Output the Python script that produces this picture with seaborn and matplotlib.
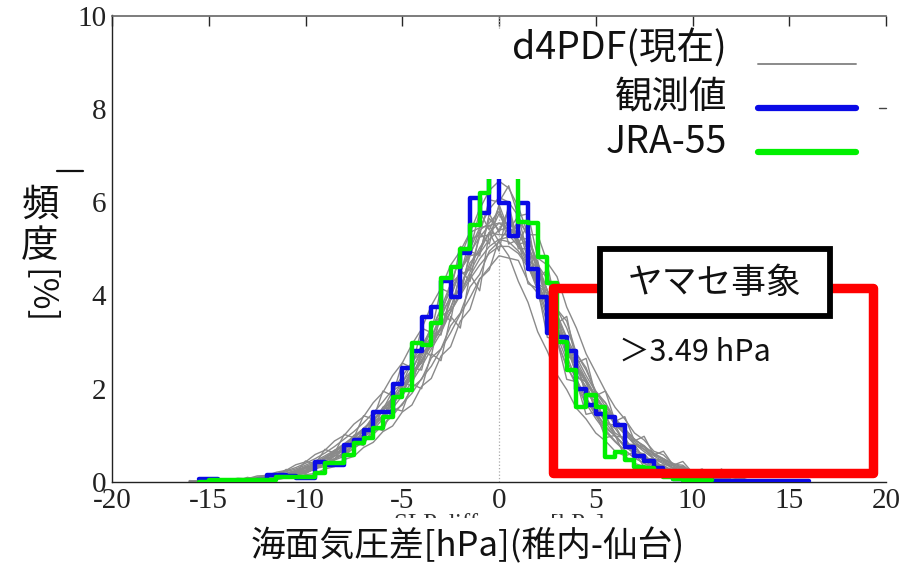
import numpy as np
import pandas as pd
import matplotlib
matplotlib.use("Agg")
import matplotlib.pyplot as plt
import seaborn as sns
from matplotlib.patches import Rectangle
from matplotlib.lines import Line2D

# ---------------- data ----------------
bin_width = 0.5
blue_start = -15.5
blue_obs = [0.06, 0.06, 0.03, 0.02, 0.02, 0.03, 0.05, 0.15, 0.15, 0.12, 0.09, 0.09,
            0.43, 0.36, 0.36, 0.79, 0.90, 1.11, 1.50, 1.50, 2.10, 2.44, 2.80, 3.53, 3.75,
            4.30, 3.96, 4.90, 6.08, 5.76, 6.90,
            5.97, 5.27, 5.97, 4.56, 3.96, 3.20, 3.10, 2.80, 2.00, 1.65, 1.45, 1.40, 1.22,
            0.75, 0.56, 0.45, 0.31, 0.12,
            0.06, 0.05, 0.04, 0.04, 0.03, 0.03, 0.03, 0.02, 0.02, 0.02, 0.02, 0.02, 0.02, 0.02]
green_start = -15.5
green_jra = [0.00, 0.04, 0.04, 0.04, 0.04, 0.04, 0.05, 0.05, 0.10, 0.10, 0.10, 0.10,
             0.20, 0.40, 0.40, 0.58, 0.83, 0.95, 1.15, 1.39, 1.82, 1.97, 2.97, 2.93, 3.40,
             4.37, 4.60, 5.00, 5.50, 6.19, 6.90,
             6.90, 6.90, 5.57, 5.55, 4.82, 4.26, 3.00, 2.40, 1.60, 1.86, 1.60, 0.53, 0.65,
             0.47, 0.32, 0.30, 0.20, 0.10, 0.06, 0.05, 0.05, 0.04]

# d4PDF ensemble members (values every 0.5 hPa)
gray_start_a = -13.0
gray_members_a = {
    "A": [0.05,0.04,0.10,0.08,0.18,0.22,0.33,0.35,0.52,0.62,0.80,0.92,1.15,1.30,1.60,1.80,2.15,2.40,2.85,3.10,3.60,3.95,4.55,4.85,5.40,5.55,5.80,5.45,5.20,4.70,4.20,3.60,3.15,2.60,2.20,1.80,1.50,1.20,0.98,0.78,0.62,0.48,0.37,0.28,0.20,0.15,0.10,0.07,0.04,0.03,0.01],
    "B": [0.01,0.03,0.04,0.07,0.10,0.15,0.22,0.30,0.38,0.50,0.62,0.78,0.95,1.12,1.35,1.58,1.85,2.15,2.48,2.85,3.20,3.65,4.05,4.50,4.90,5.20,5.40,5.45,5.30,5.00,4.60,4.10,3.55,3.05,2.60,2.20,1.85,1.52,1.25,1.02,0.82,0.65,0.50,0.39,0.30,0.22,0.15,0.10,0.07,0.04,0.03],
    "C": [0.02,0.07,0.05,0.13,0.11,0.25,0.22,0.42,0.40,0.66,0.64,0.97,0.95,1.36,1.32,1.85,1.80,2.45,2.40,3.20,3.15,4.05,3.95,4.95,4.85,5.75,5.35,5.85,5.10,5.15,4.25,4.10,3.15,3.05,2.25,2.15,1.50,1.45,0.98,0.96,0.60,0.60,0.35,0.36,0.19,0.21,0.09,0.11,0.03,0.05,0.01],
    "D": [0.06,0.08,0.11,0.14,0.19,0.25,0.33,0.42,0.53,0.66,0.80,0.96,1.13,1.32,1.53,1.77,2.03,2.30,2.60,2.92,3.28,3.65,4.05,4.42,4.78,5.05,5.20,5.15,4.95,4.65,4.25,3.80,3.32,2.88,2.48,2.12,1.80,1.52,1.28,1.06,0.87,0.70,0.56,0.44,0.34,0.26,0.19,0.13,0.09,0.05,0.03],
    "E": [0.01,0.02,0.04,0.06,0.09,0.14,0.20,0.28,0.38,0.49,0.62,0.78,0.96,1.17,1.40,1.67,1.96,2.30,2.68,3.08,3.52,4.00,4.50,5.00,5.45,5.85,6.10,6.00,5.70,5.25,4.70,4.10,3.50,2.95,2.45,2.00,1.60,1.28,1.00,0.78,0.60,0.45,0.33,0.24,0.17,0.11,0.07,0.05,0.03,0.02,0.01],
    "F": [0.04,0.03,0.09,0.07,0.17,0.15,0.32,0.28,0.52,0.48,0.80,0.74,1.16,1.10,1.60,1.55,2.15,2.05,2.85,2.70,3.65,3.45,4.55,4.30,5.35,5.10,5.95,5.40,5.70,4.85,4.75,3.75,3.65,2.70,2.60,1.85,1.80,1.25,1.22,0.82,0.80,0.50,0.50,0.29,0.30,0.14,0.16,0.06,0.07,0.02,0.03],
    "G": [0.02,0.04,0.06,0.09,0.12,0.17,0.24,0.33,0.43,0.55,0.68,0.84,1.00,1.20,1.42,1.66,1.94,2.24,2.58,2.95,3.33,3.75,4.20,4.62,5.02,5.35,5.55,5.55,5.40,5.05,4.60,4.10,3.60,3.10,2.68,2.28,1.93,1.62,1.35,1.12,0.92,0.75,0.60,0.47,0.37,0.28,0.21,0.15,0.10,0.06,0.04],
    "H": [0.08,0.10,0.14,0.18,0.24,0.31,0.40,0.50,0.62,0.76,0.92,1.08,1.27,1.48,1.72,1.98,2.26,2.57,2.92,3.28,3.68,4.10,4.52,4.92,5.25,5.50,5.55,5.40,5.10,4.65,4.10,3.55,3.00,2.50,2.06,1.68,1.36,1.08,0.86,0.67,0.52,0.40,0.30,0.22,0.16,0.11,0.08,0.05,0.03,0.02,0.01],
    "I": [0.03,0.06,0.06,0.12,0.13,0.21,0.30,0.34,0.50,0.55,0.78,0.85,1.10,1.20,1.55,1.65,2.10,2.20,2.75,2.90,3.55,3.70,4.45,4.55,5.25,5.30,5.75,5.35,5.50,4.75,4.60,3.75,3.50,2.75,2.50,1.90,1.72,1.30,1.15,0.85,0.74,0.52,0.45,0.30,0.26,0.16,0.13,0.08,0.06,0.03,0.02],
    "J": [0.02,0.03,0.08,0.09,0.12,0.24,0.25,0.38,0.44,0.62,0.70,0.90,1.02,1.28,1.40,1.76,1.92,2.35,2.55,3.05,3.30,3.90,4.15,4.70,4.95,5.35,5.30,5.30,5.05,4.80,4.25,3.85,3.20,2.90,2.30,2.05,1.58,1.40,1.05,0.92,0.66,0.60,0.38,0.36,0.22,0.20,0.10,0.12,0.04,0.06,0.02],
}
gray_start_b = -16.0
gray_members_b = {
    "K": [.02,.00,.04,.01,.06,.02,.10,.05,.16,.11,.27,.20,.45,.38,.70,.62,1.02,.95,1.42,1.35,1.95,1.85,2.55,2.45,3.30,3.20,4.15,4.05,5.05,4.95,5.80,5.40,5.90,5.10,5.20,4.25,4.15,3.10,3.05,2.20,2.15,1.45,1.50,.95,1.00,.55,.65,.32,.42,.15,.25,.06,.14,.02,.07,.00,.03,.00,.01],
    "L": [.00,.02,.01,.00,.03,.02,.04,.03,.07,.09,.10,.16,.18,.29,.33,.47,.55,.74,.84,1.08,1.18,1.50,1.65,2.02,2.20,2.66,2.85,3.35,3.62,4.18,4.45,4.95,5.15,5.45,5.25,5.20,4.65,4.35,3.70,3.30,2.75,2.40,1.95,1.70,1.35,1.15,.90,.78,.58,.50,.36,.30,.22,.18,.12,.10,.05,.06,.02],
    "M": [.00,.00,.01,.01,.01,.02,.02,.03,.05,.07,.10,.14,.20,.28,.38,.50,.64,.80,.98,1.20,1.44,1.72,2.04,2.40,2.80,3.25,3.72,4.25,4.80,5.35,5.85,6.25,6.45,6.30,5.90,5.30,4.65,3.95,3.30,2.70,2.20,1.78,1.42,1.12,.88,.68,.52,.40,.30,.22,.16,.11,.07,.05,.03,.02,.01,.00,.00],
    "N": [.02,.03,.03,.04,.05,.06,.08,.10,.13,.17,.22,.28,.36,.45,.56,.68,.82,.98,1.15,1.34,1.55,1.78,2.04,2.32,2.62,2.95,3.30,3.65,4.00,4.35,4.65,4.90,5.05,5.05,4.90,4.60,4.20,3.75,3.30,2.88,2.50,2.15,1.84,1.56,1.32,1.10,.92,.76,.62,.50,.40,.31,.24,.18,.13,.09,.06,.04,.02],
    "O": [.00,.03,.00,.04,.02,.06,.03,.09,.06,.14,.11,.23,.20,.38,.34,.58,.52,.85,.78,1.18,1.10,1.58,1.52,2.10,2.00,2.75,2.60,3.55,3.30,4.45,4.10,5.35,4.95,5.95,5.10,5.55,4.35,4.55,3.40,3.55,2.55,2.65,1.85,1.95,1.30,1.40,.88,.98,.58,.66,.36,.44,.20,.28,.10,.16,.04,.08,.01],
    "P": [.03,.02,.04,.05,.04,.08,.07,.13,.14,.21,.25,.37,.43,.59,.68,.88,1.00,1.24,1.40,1.70,1.92,2.28,2.55,2.95,3.28,3.78,4.15,4.65,4.95,5.35,5.45,5.50,5.15,4.85,4.30,3.85,3.22,2.80,2.30,1.98,1.58,1.35,1.05,.88,.66,.56,.40,.33,.22,.18,.11,.09,.04,.04,.01,.02,.00,.01,.00],
    "Q": [.00,.01,.02,.00,.02,.01,.03,.02,.05,.05,.09,.10,.16,.18,.28,.33,.48,.55,.74,.85,1.08,1.20,1.50,1.65,2.05,2.22,2.70,2.90,3.45,3.70,4.35,4.55,5.20,5.25,5.60,5.30,5.30,4.70,4.40,3.75,3.30,2.75,2.35,1.95,1.60,1.35,1.05,.90,.66,.58,.38,.36,.20,.24,.08,.14,.02,.06,.00],
    "R": [.01,.02,.02,.03,.03,.05,.05,.08,.09,.14,.16,.25,.28,.42,.48,.68,.75,1.00,1.10,1.42,1.55,1.95,2.10,2.58,2.80,3.35,3.55,4.25,4.45,5.20,5.30,6.05,6.00,6.35,5.70,5.75,4.80,4.65,3.70,3.45,2.75,2.45,1.90,1.70,1.25,1.15,.82,.75,.50,.46,.30,.26,.17,.14,.09,.07,.04,.03,.02],
    "S": [.00,.01,.00,.02,.01,.02,.03,.04,.06,.09,.12,.16,.22,.30,.38,.48,.60,.72,.88,1.02,1.22,1.42,1.68,1.90,2.22,2.48,2.85,3.20,3.60,3.95,4.35,4.60,4.85,4.80,4.75,4.30,4.05,3.40,3.05,2.45,2.15,1.70,1.50,1.15,1.00,.74,.64,.46,.40,.28,.22,.15,.12,.07,.06,.03,.02,.01,.00],
    "T": [.02,.00,.01,.03,.01,.04,.06,.05,.10,.09,.16,.19,.25,.38,.42,.60,.68,.90,1.02,1.30,1.40,1.78,1.90,2.38,2.55,3.10,3.25,3.95,4.10,4.85,4.90,5.65,5.40,5.80,5.00,5.00,4.20,4.05,3.30,3.05,2.50,2.20,1.78,1.55,1.22,1.05,.80,.70,.50,.42,.30,.34,.16,.22,.08,.28,.05,.10,.02],
}

x_ticks = [-20, -15, -10, -5, 0, 5, 10, 15, 20]
y_ticks = [0, 2, 4, 6, 8, 10]
legend_labels = ["d4PDF(現在)", "観測値", "JRA-55"]
xlabel_jp = "海面気圧差[hPa](稚内-仙台)"
xlabel_en = "SLP difference [hPa]"
event_label = "ヤマセ事象"
threshold_label = "＞3.49 hPa"

# ---------------- style ----------------
sns.set_theme(style="white")
plt.rcParams["font.family"] = ["Noto Sans CJK JP", "DejaVu Sans"]

W, H = 906, 565
fig = plt.figure(figsize=(W / 100, H / 100), dpi=100)
ax = fig.add_axes([112 / W, 1 - 482 / H, 774 / W, (482 - 15.5) / H])

GRAY = "#8a8a8a"
BLUE = "#0a0ae6"
GREEN = "#00f000"

# gray ensemble members
rows = []
for start, members in ((gray_start_a, gray_members_a), (gray_start_b, gray_members_b)):
    for name, vals in members.items():
        xs = start + bin_width * np.arange(len(vals))
        for xv, yv in zip(xs, vals):
            rows.append({"member": name, "x": xv, "v": yv})
gdf = pd.DataFrame(rows)
sns.lineplot(data=gdf, x="x", y="v", units="member", estimator=None,
             color=GRAY, lw=1.0, ax=ax, legend=False, zorder=2)

# observed & JRA-55 step histograms
b_edges = blue_start + bin_width * np.arange(len(blue_obs) + 1)
sns.lineplot(x=b_edges, y=np.append(blue_obs, blue_obs[-1]), drawstyle="steps-post",
             color=BLUE, lw=3.2, ax=ax, zorder=3)
g_edges = green_start + bin_width * np.arange(len(green_jra) + 1)
sns.lineplot(x=g_edges, y=np.append(green_jra, green_jra[-1]), drawstyle="steps-post",
             color=GREEN, lw=3.2, ax=ax, zorder=4)

ax.axvline(0, color="#aaaaaa", lw=0.9, ls=":", zorder=1)

ax.set_xlim(-20, 20)
ax.set_ylim(0, 10)
ax.set_xticks(x_ticks)
ax.set_yticks(y_ticks)
ax.set_xticklabels([str(t) for t in x_ticks])
ax.set_yticklabels([str(t) for t in y_ticks])
ax.tick_params(direction="in", top=True, right=False, length=7, width=1,
               labelsize=21, labelcolor="#222222", labelfontfamily="Liberation Serif",
               pad=4)
ax.set_xlabel("")
ax.set_ylabel("")
ax.spines["right"].set_visible(False)
for s in ["left", "bottom"]:
    ax.spines[s].set_color("#222222")
    ax.spines[s].set_linewidth(1.0)
ax.spines["top"].set_color("#666666")
ax.spines["top"].set_linewidth(1.2)

# white box hiding the peak (legend area)
ax.add_patch(Rectangle((-1.5, 6.5), 21.2, 3.2, facecolor="white", edgecolor="none",
                       zorder=5))

# red event rectangle
ax.add_patch(Rectangle((2.8, 0.19), 16.55, 3.97, fill=False, edgecolor="#ff0000",
                       lw=6.8, joinstyle="round", zorder=6))

# ---------------- legend (manual) ----------------
def fx(px):
    return px / W

def fy(py):
    return 1 - py / H

leg_text_y = [49, 97, 142]
leg_line_y = [64, 108, 152]
leg_colors = [GRAY, BLUE, GREEN]
leg_lw = [1.4, 4.5, 4.5]
for lab, ty, ly, c, lw in zip(legend_labels, leg_text_y, leg_line_y, leg_colors, leg_lw):
    fig.text(fx(727), fy(ty), lab, ha="right", va="center", fontsize=27, color="#111111",
             zorder=8)
    fig.add_artist(Line2D([fx(758), fx(856)], [fy(ly), fy(ly)], color=c, lw=lw,
                          transform=fig.transFigure, zorder=8))
# small right-hand tick at y=8
fig.add_artist(Line2D([fx(879), fx(886)], [fy(108), fy(108)], color="#444444", lw=1.0,
                      transform=fig.transFigure, zorder=8))

# ヤマセ事象 box
fig.add_artist(Rectangle((fx(600), fy(316)), (830 - 600) / W, (316 - 249) / H,
                         transform=fig.transFigure, facecolor="white", edgecolor="black",
                         lw=4.2, zorder=8))
fig.text(fx(715), fy(283), event_label, ha="center", va="center", fontsize=25,
         color="#111111", zorder=9)
fig.text(fx(619), fy(352), threshold_label, ha="left", va="center", fontsize=22,
         color="#111111", zorder=9)

# partially hidden English x label, then Japanese label over it
fig.text(fx(499), fy(525), xlabel_en, ha="center", va="center", fontsize=18,
         family="Liberation Serif", color="#333333", zorder=3)
fig.add_artist(Rectangle((fx(330), 0), (680 - 330) / W, (565 - 518) / H,
                         transform=fig.transFigure, facecolor="white", edgecolor="none",
                         zorder=4))
fig.text(fx(468), fy(546), xlabel_jp, ha="center", va="center", fontsize=25,
         color="#111111", zorder=5)

# vertical y label: 頻 度 [%]
fig.text(fx(40), fy(205), "頻", ha="center", va="center", fontsize=27, color="#111111")
fig.text(fx(40), fy(247), "度", ha="center", va="center", fontsize=27, color="#111111")
fig.text(fx(40), fy(297), "[%]", ha="center", va="center", fontsize=25, rotation=-90,
         color="#111111")
fig.add_artist(Line2D([fx(57), fx(83)], [fy(171), fy(171)], color="#111111", lw=1.6,
                      transform=fig.transFigure))

fig.savefig("out.png", dpi=100)
